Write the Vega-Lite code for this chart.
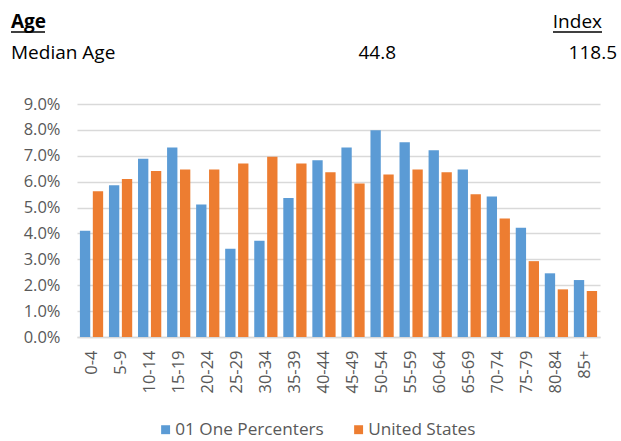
{
  "$schema": "https://vega.github.io/schema/vega-lite/v6.json",
  "background": "white",
  "padding": {"left": 11, "top": 0, "right": 4, "bottom": 4},
  "bounds": "flush",
  "spacing": 24,
  "config": {"view": {"stroke": null}, "font": "Open Sans"},
  "vconcat": [
    {
      "width": 523,
      "height": 80,
      "data": {"values": [
        {"row": "head", "col": "label", "text": "Age"},
        {"row": "head", "col": "index", "text": "Index"},
        {"row": "body", "col": "label", "text": "Median Age"},
        {"row": "body", "col": "value", "text": "44.8"},
        {"row": "body", "col": "index", "text": "118.5"}
      ]},
      "encoding": {
        "x": {"field": "col", "type": "nominal", "scale": {"type": "point", "domain": ["label", "value", "index"], "range": [-66, 540], "padding": 0}, "axis": null},
        "y": {"field": "row", "type": "nominal", "scale": {"type": "point", "domain": ["head", "body"], "range": [28, 59], "padding": 0}, "axis": null}
      },
      "layer": [
        {"transform": [{"filter": "datum.text === 'Age'"}], "mark": {"type": "text", "align": "left", "baseline": "alphabetic", "fontSize": 19, "fontWeight": "bold", "color": "#000000"}, "encoding": {"text": {"field": "text"}}},
        {"transform": [{"filter": "datum.text === 'Median Age'"}], "mark": {"type": "text", "align": "left", "baseline": "alphabetic", "fontSize": 19, "color": "#000000"}, "encoding": {"text": {"field": "text"}}},
        {"transform": [{"filter": "datum.col === 'value'"}], "mark": {"type": "text", "align": "right", "baseline": "alphabetic", "fontSize": 19, "dx": 82, "color": "#000000"}, "encoding": {"text": {"field": "text"}}},
        {"transform": [{"filter": "datum.text === 'Index'"}], "mark": {"type": "text", "align": "right", "baseline": "alphabetic", "fontSize": 19, "dx": -15, "color": "#000000"}, "encoding": {"text": {"field": "text"}}},
        {"transform": [{"filter": "datum.text === '118.5'"}], "mark": {"type": "text", "align": "right", "baseline": "alphabetic", "fontSize": 19, "color": "#000000"}, "encoding": {"text": {"field": "text"}}},
        {"transform": [{"filter": "datum.text === 'Age'"}], "mark": {"type": "tick", "orient": "horizontal", "size": 34, "thickness": 1.6, "xOffset": 17, "yOffset": 4, "color": "#000000", "opacity": 1}},
        {"transform": [{"filter": "datum.text === 'Index'"}], "mark": {"type": "tick", "orient": "horizontal", "size": 49, "thickness": 1.6, "xOffset": -39.5, "yOffset": 4, "color": "#000000", "opacity": 1}}
      ]
    },
    {
      "width": 523,
      "height": 233,
      "data": {"values": [
        {"age": "0-4", "series": "01 One Percenters", "value": 0.041},
        {"age": "0-4", "series": "United States", "value": 0.0563},
        {"age": "5-9", "series": "01 One Percenters", "value": 0.0586},
        {"age": "5-9", "series": "United States", "value": 0.061},
        {"age": "10-14", "series": "01 One Percenters", "value": 0.0689},
        {"age": "10-14", "series": "United States", "value": 0.0641},
        {"age": "15-19", "series": "01 One Percenters", "value": 0.0732},
        {"age": "15-19", "series": "United States", "value": 0.0647},
        {"age": "20-24", "series": "01 One Percenters", "value": 0.0512},
        {"age": "20-24", "series": "United States", "value": 0.0647},
        {"age": "25-29", "series": "01 One Percenters", "value": 0.0341},
        {"age": "25-29", "series": "United States", "value": 0.067},
        {"age": "30-34", "series": "01 One Percenters", "value": 0.0372},
        {"age": "30-34", "series": "United States", "value": 0.0696},
        {"age": "35-39", "series": "01 One Percenters", "value": 0.0537},
        {"age": "35-39", "series": "United States", "value": 0.067},
        {"age": "40-44", "series": "01 One Percenters", "value": 0.0683},
        {"age": "40-44", "series": "United States", "value": 0.0636},
        {"age": "45-49", "series": "01 One Percenters", "value": 0.0732},
        {"age": "45-49", "series": "United States", "value": 0.0593},
        {"age": "50-54", "series": "01 One Percenters", "value": 0.0799},
        {"age": "50-54", "series": "United States", "value": 0.0628},
        {"age": "55-59", "series": "01 One Percenters", "value": 0.0752},
        {"age": "55-59", "series": "United States", "value": 0.0647},
        {"age": "60-64", "series": "01 One Percenters", "value": 0.0721},
        {"age": "60-64", "series": "United States", "value": 0.0636},
        {"age": "65-69", "series": "01 One Percenters", "value": 0.0647},
        {"age": "65-69", "series": "United States", "value": 0.0551},
        {"age": "70-74", "series": "01 One Percenters", "value": 0.0543},
        {"age": "70-74", "series": "United States", "value": 0.0458},
        {"age": "75-79", "series": "01 One Percenters", "value": 0.0422},
        {"age": "75-79", "series": "United States", "value": 0.0293},
        {"age": "80-84", "series": "01 One Percenters", "value": 0.0246},
        {"age": "80-84", "series": "United States", "value": 0.0184},
        {"age": "85+", "series": "01 One Percenters", "value": 0.022},
        {"age": "85+", "series": "United States", "value": 0.0178}
      ]},
      "mark": {"type": "bar"},
      "encoding": {
        "x": {"field": "age", "type": "nominal", "sort": null,
          "scale": {"paddingInner": 0.2, "paddingOuter": 0.1},
          "axis": {"title": null, "labelAngle": -90, "labelFontSize": 16.5, "labelColor": "#595959", "ticks": false, "labelPadding": 13, "domainColor": "#d9d9d9", "domainWidth": 1.3, "grid": false}},
        "xOffset": {"field": "series", "type": "nominal", "sort": null, "scale": {"paddingInner": 0.2}},
        "y": {"field": "value", "type": "quantitative",
          "scale": {"domain": [0, 0.09]},
          "axis": {"title": null, "format": ".1%", "values": [0, 0.01, 0.02, 0.03, 0.04, 0.05, 0.06, 0.07, 0.08, 0.09], "labelFontSize": 16.5, "labelColor": "#595959", "ticks": false, "domain": false, "labelPadding": 17, "gridColor": "#d9d9d9", "gridWidth": 1.3}},
        "color": {"field": "series", "type": "nominal",
          "scale": {"domain": ["01 One Percenters", "United States"], "range": ["#5B9BD5", "#ED7D31"]},
          "legend": {"title": null, "orient": "none", "direction": "horizontal", "legendX": 80, "legendY": 421, "symbolType": "square", "symbolSize": 80, "symbolStrokeWidth": 0, "labelFontSize": 17.2, "labelColor": "#595959", "labelOffset": 1, "columnPadding": 26}}
      }
    }
  ]
}
